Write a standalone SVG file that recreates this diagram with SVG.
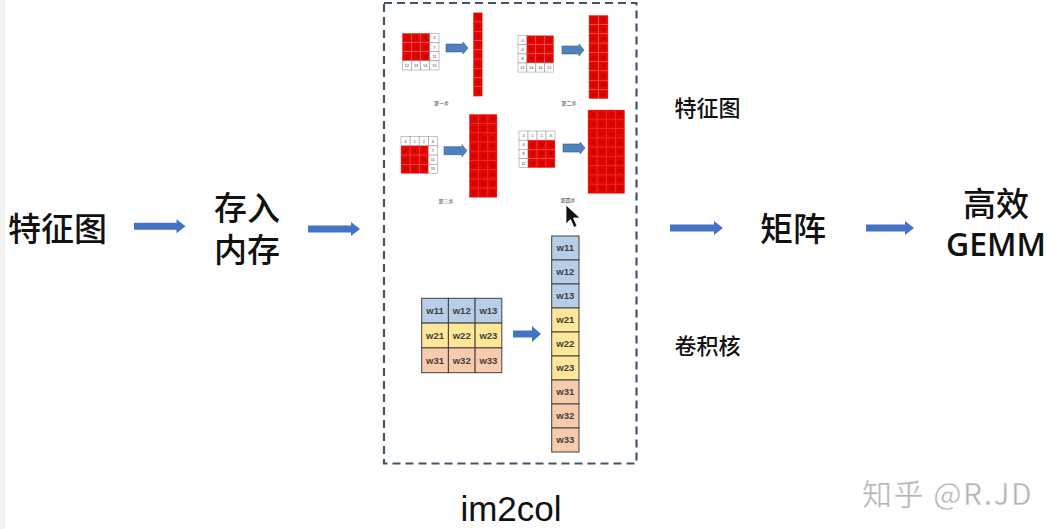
<svg xmlns="http://www.w3.org/2000/svg" width="1058" height="529" viewBox="0 0 1058 529">
<style>
.cjk{font-family:"Noto Sans CJK SC","Noto Sans",sans-serif;fill:#111;font-weight:500}
.big{font-size:33px}
.mid{font-size:22px}
.lat{font-family:"Liberation Sans",Arial,sans-serif;fill:#111}
.arr{fill:#4472c4}
.barr{fill:#4f81bd;stroke:#385d8a;stroke-width:0.6}
.r{fill:#e10600;stroke:#ff5a5a;stroke-width:0.4}
.w{fill:#fff;stroke:#8a8a8a;stroke-width:0.5}
.tr{font-family:"Liberation Sans",Arial,sans-serif;font-size:3.8px;fill:#6a0000;text-anchor:middle}
.tw{font-family:"Liberation Sans",Arial,sans-serif;font-size:3.8px;fill:#333;text-anchor:middle}
.step{font-family:"Noto Sans CJK SC",sans-serif;font-size:5px;fill:#333;text-anchor:middle}
.kb{fill:#b8cde8;stroke:#404040;stroke-width:1}
.ky{fill:#ffe699;stroke:#404040;stroke-width:1}
.ks{fill:#f8cbad;stroke:#404040;stroke-width:1}
.kt{font-family:"Liberation Sans",Arial,sans-serif;font-size:9.5px;font-weight:bold;fill:#404040;text-anchor:middle}
</style>
<rect x="0" y="0" width="1058" height="529" fill="#ffffff"/>
<rect x="0" y="0" width="5" height="529" fill="#f3f3f3"/>

<g id="connectors">
  <polygon class="arr" points="134,222.8 176.5,222.8 176.5,219.3 185.5,226.3 176.5,233.3 176.5,229.8 134,229.8"/>
  <polygon class="arr" points="308,225.5 351,225.5 351,222 360,229 351,236 351,232.5 308,232.5"/>
  <polygon class="arr" points="670,224.5 714,224.5 714,221 723,228 714,235 714,231.5 670,231.5"/>
  <polygon class="arr" points="866,224.5 905,224.5 905,221 914,228 905,235 905,231.5 866,231.5"/>
</g>

<g id="node-featuremap">
  <text class="cjk big" x="57.5" y="240.5" text-anchor="middle">特征图</text>
</g>
<g id="node-memory">
  <text class="cjk big" text-anchor="middle"><tspan x="247" y="220">存入</tspan><tspan x="247" y="262">内存</tspan></text>
</g>

<g id="node-im2col">
  <rect x="384" y="3" width="252.5" height="460.5" fill="none" stroke="#44546a" stroke-width="2.2" stroke-dasharray="8,5"/>

  <!-- step 1 grid -->
  <g transform="translate(402.3,33.3) scale(1.02)">
    <rect class="r" x="0" y="0" width="9" height="9"/><rect class="r" x="9" y="0" width="9" height="9"/><rect class="r" x="18" y="0" width="9" height="9"/><rect class="w" x="27" y="0" width="9" height="9"/>
    <rect class="r" x="0" y="9" width="9" height="9"/><rect class="r" x="9" y="9" width="9" height="9"/><rect class="r" x="18" y="9" width="9" height="9"/><rect class="w" x="27" y="9" width="9" height="9"/>
    <rect class="r" x="0" y="18" width="9" height="9"/><rect class="r" x="9" y="18" width="9" height="9"/><rect class="r" x="18" y="18" width="9" height="9"/><rect class="w" x="27" y="18" width="9" height="9"/>
    <rect class="w" x="0" y="27" width="9" height="9"/><rect class="w" x="9" y="27" width="9" height="9"/><rect class="w" x="18" y="27" width="9" height="9"/><rect class="w" x="27" y="27" width="9" height="9"/>
    <text class="tr" x="4.5" y="6">0</text><text class="tr" x="13.5" y="6">1</text><text class="tr" x="22.5" y="6">2</text><text class="tw" x="31.5" y="6">3</text>
    <text class="tr" x="4.5" y="15">4</text><text class="tr" x="13.5" y="15">5</text><text class="tr" x="22.5" y="15">6</text><text class="tw" x="31.5" y="15">7</text>
    <text class="tr" x="4.5" y="24">8</text><text class="tr" x="13.5" y="24">9</text><text class="tr" x="22.5" y="24">10</text><text class="tw" x="31.5" y="24">11</text>
    <text class="tw" x="4.5" y="33">12</text><text class="tw" x="13.5" y="33">13</text><text class="tw" x="22.5" y="33">14</text><text class="tw" x="31.5" y="33">15</text>
  </g>
  <polygon class="barr" points="446,44 463,44 463,42 468,48 463,54 463,52 446,52"/>
  <g transform="translate(473.3,12.7) scale(1,1.03)">
    <rect class="r" x="0" y="0" width="9" height="9"/><rect class="r" x="0" y="9" width="9" height="9"/><rect class="r" x="0" y="18" width="9" height="9"/>
    <rect class="r" x="0" y="27" width="9" height="9"/><rect class="r" x="0" y="36" width="9" height="9"/><rect class="r" x="0" y="45" width="9" height="9"/>
    <rect class="r" x="0" y="54" width="9" height="9"/><rect class="r" x="0" y="63" width="9" height="9"/><rect class="r" x="0" y="72" width="9" height="9"/>
    <text class="tr" x="4.5" y="6">0</text><text class="tr" x="4.5" y="15">1</text><text class="tr" x="4.5" y="24">2</text>
    <text class="tr" x="4.5" y="33">4</text><text class="tr" x="4.5" y="42">5</text><text class="tr" x="4.5" y="51">6</text>
    <text class="tr" x="4.5" y="60">8</text><text class="tr" x="4.5" y="69">9</text><text class="tr" x="4.5" y="78">10</text>
  </g>
  <text class="step" x="441.5" y="104.5">第一步</text>

  <!-- step 2 grid -->
  <g transform="translate(518,35.7) scale(0.99,1.01)">
    <rect class="w" x="0" y="0" width="9" height="9"/><rect class="r" x="9" y="0" width="9" height="9"/><rect class="r" x="18" y="0" width="9" height="9"/><rect class="r" x="27" y="0" width="9" height="9"/>
    <rect class="w" x="0" y="9" width="9" height="9"/><rect class="r" x="9" y="9" width="9" height="9"/><rect class="r" x="18" y="9" width="9" height="9"/><rect class="r" x="27" y="9" width="9" height="9"/>
    <rect class="w" x="0" y="18" width="9" height="9"/><rect class="r" x="9" y="18" width="9" height="9"/><rect class="r" x="18" y="18" width="9" height="9"/><rect class="r" x="27" y="18" width="9" height="9"/>
    <rect class="w" x="0" y="27" width="9" height="9"/><rect class="w" x="9" y="27" width="9" height="9"/><rect class="w" x="18" y="27" width="9" height="9"/><rect class="w" x="27" y="27" width="9" height="9"/>
    <text class="tw" x="4.5" y="6">0</text><text class="tr" x="13.5" y="6">1</text><text class="tr" x="22.5" y="6">2</text><text class="tr" x="31.5" y="6">3</text>
    <text class="tw" x="4.5" y="15">4</text><text class="tr" x="13.5" y="15">5</text><text class="tr" x="22.5" y="15">6</text><text class="tr" x="31.5" y="15">7</text>
    <text class="tw" x="4.5" y="24">8</text><text class="tr" x="13.5" y="24">9</text><text class="tr" x="22.5" y="24">10</text><text class="tr" x="31.5" y="24">11</text>
    <text class="tw" x="4.5" y="33">12</text><text class="tw" x="13.5" y="33">13</text><text class="tw" x="22.5" y="33">14</text><text class="tw" x="31.5" y="33">15</text>
  </g>
  <polygon class="barr" points="562,46 579,46 579,44 584,50 579,56 579,54 562,54"/>
  <g transform="translate(589,15.3) scale(1.055,1.03)">
    <rect class="r" x="0" y="0" width="9" height="9"/><rect class="r" x="9" y="0" width="9" height="9"/>
    <rect class="r" x="0" y="9" width="9" height="9"/><rect class="r" x="9" y="9" width="9" height="9"/>
    <rect class="r" x="0" y="18" width="9" height="9"/><rect class="r" x="9" y="18" width="9" height="9"/>
    <rect class="r" x="0" y="27" width="9" height="9"/><rect class="r" x="9" y="27" width="9" height="9"/>
    <rect class="r" x="0" y="36" width="9" height="9"/><rect class="r" x="9" y="36" width="9" height="9"/>
    <rect class="r" x="0" y="45" width="9" height="9"/><rect class="r" x="9" y="45" width="9" height="9"/>
    <rect class="r" x="0" y="54" width="9" height="9"/><rect class="r" x="9" y="54" width="9" height="9"/>
    <rect class="r" x="0" y="63" width="9" height="9"/><rect class="r" x="9" y="63" width="9" height="9"/>
    <rect class="r" x="0" y="72" width="9" height="9"/><rect class="r" x="9" y="72" width="9" height="9"/>
    <text class="tr" x="4.5" y="6">0</text><text class="tr" x="13.5" y="6">1</text>
    <text class="tr" x="4.5" y="15">1</text><text class="tr" x="13.5" y="15">2</text>
    <text class="tr" x="4.5" y="24">2</text><text class="tr" x="13.5" y="24">3</text>
    <text class="tr" x="4.5" y="33">4</text><text class="tr" x="13.5" y="33">5</text>
    <text class="tr" x="4.5" y="42">5</text><text class="tr" x="13.5" y="42">6</text>
    <text class="tr" x="4.5" y="51">6</text><text class="tr" x="13.5" y="51">7</text>
    <text class="tr" x="4.5" y="60">8</text><text class="tr" x="13.5" y="60">9</text>
    <text class="tr" x="4.5" y="69">9</text><text class="tr" x="13.5" y="69">10</text>
    <text class="tr" x="4.5" y="78">10</text><text class="tr" x="13.5" y="78">11</text>
  </g>
  <text class="step" x="569" y="104.5">第二步</text>

  <!-- step 3 grid -->
  <g transform="translate(401,136.7) scale(1.01,1.02)">
    <rect class="w" x="0" y="0" width="9" height="9"/><rect class="w" x="9" y="0" width="9" height="9"/><rect class="w" x="18" y="0" width="9" height="9"/><rect class="w" x="27" y="0" width="9" height="9"/>
    <rect class="r" x="0" y="9" width="9" height="9"/><rect class="r" x="9" y="9" width="9" height="9"/><rect class="r" x="18" y="9" width="9" height="9"/><rect class="w" x="27" y="9" width="9" height="9"/>
    <rect class="r" x="0" y="18" width="9" height="9"/><rect class="r" x="9" y="18" width="9" height="9"/><rect class="r" x="18" y="18" width="9" height="9"/><rect class="w" x="27" y="18" width="9" height="9"/>
    <rect class="r" x="0" y="27" width="9" height="9"/><rect class="r" x="9" y="27" width="9" height="9"/><rect class="r" x="18" y="27" width="9" height="9"/><rect class="w" x="27" y="27" width="9" height="9"/>
    <text class="tw" x="4.5" y="6">0</text><text class="tw" x="13.5" y="6">1</text><text class="tw" x="22.5" y="6">2</text><text class="tw" x="31.5" y="6">3</text>
    <text class="tr" x="4.5" y="15">4</text><text class="tr" x="13.5" y="15">5</text><text class="tr" x="22.5" y="15">6</text><text class="tw" x="31.5" y="15">7</text>
    <text class="tr" x="4.5" y="24">8</text><text class="tr" x="13.5" y="24">9</text><text class="tr" x="22.5" y="24">10</text><text class="tw" x="31.5" y="24">11</text>
    <text class="tr" x="4.5" y="33">12</text><text class="tr" x="13.5" y="33">13</text><text class="tr" x="22.5" y="33">14</text><text class="tw" x="31.5" y="33">15</text>
  </g>
  <polygon class="barr" points="444,146.7 462,146.7 462,144.7 467,150.7 462,156.7 462,154.7 444,154.7"/>
  <g transform="translate(469.3,114.3) scale(1.026,1.025)">
    <rect class="r" x="0" y="0" width="27" height="81"/>
    <path d="M9 0V81M18 0V81M0 9H27M0 18H27M0 27H27M0 36H27M0 45H27M0 54H27M0 63H27M0 72H27" stroke="#ff5a5a" stroke-width="0.4" fill="none"/>
    <text class="tr" x="4.5" y="6">0</text><text class="tr" x="13.5" y="6">1</text><text class="tr" x="22.5" y="6">4</text>
    <text class="tr" x="4.5" y="15">1</text><text class="tr" x="13.5" y="15">2</text><text class="tr" x="22.5" y="15">5</text>
    <text class="tr" x="4.5" y="24">2</text><text class="tr" x="13.5" y="24">3</text><text class="tr" x="22.5" y="24">6</text>
    <text class="tr" x="4.5" y="33">4</text><text class="tr" x="13.5" y="33">5</text><text class="tr" x="22.5" y="33">8</text>
    <text class="tr" x="4.5" y="42">5</text><text class="tr" x="13.5" y="42">6</text><text class="tr" x="22.5" y="42">9</text>
    <text class="tr" x="4.5" y="51">6</text><text class="tr" x="13.5" y="51">7</text><text class="tr" x="22.5" y="51">10</text>
    <text class="tr" x="4.5" y="60">8</text><text class="tr" x="13.5" y="60">9</text><text class="tr" x="22.5" y="60">12</text>
    <text class="tr" x="4.5" y="69">9</text><text class="tr" x="13.5" y="69">10</text><text class="tr" x="22.5" y="69">13</text>
    <text class="tr" x="4.5" y="78">10</text><text class="tr" x="13.5" y="78">11</text><text class="tr" x="22.5" y="78">14</text>
  </g>
  <text class="step" x="446" y="203">第三步</text>

  <!-- step 4 grid -->
  <g transform="translate(519,131) scale(1,1.02)">
    <rect class="w" x="0" y="0" width="9" height="9"/><rect class="w" x="9" y="0" width="9" height="9"/><rect class="w" x="18" y="0" width="9" height="9"/><rect class="w" x="27" y="0" width="9" height="9"/>
    <rect class="w" x="0" y="9" width="9" height="9"/><rect class="r" x="9" y="9" width="9" height="9"/><rect class="r" x="18" y="9" width="9" height="9"/><rect class="r" x="27" y="9" width="9" height="9"/>
    <rect class="w" x="0" y="18" width="9" height="9"/><rect class="r" x="9" y="18" width="9" height="9"/><rect class="r" x="18" y="18" width="9" height="9"/><rect class="r" x="27" y="18" width="9" height="9"/>
    <rect class="w" x="0" y="27" width="9" height="9"/><rect class="r" x="9" y="27" width="9" height="9"/><rect class="r" x="18" y="27" width="9" height="9"/><rect class="r" x="27" y="27" width="9" height="9"/>
    <text class="tw" x="4.5" y="6">0</text><text class="tw" x="13.5" y="6">1</text><text class="tw" x="22.5" y="6">2</text><text class="tw" x="31.5" y="6">3</text>
    <text class="tw" x="4.5" y="15">4</text><text class="tr" x="13.5" y="15">5</text><text class="tr" x="22.5" y="15">6</text><text class="tr" x="31.5" y="15">7</text>
    <text class="tw" x="4.5" y="24">8</text><text class="tr" x="13.5" y="24">9</text><text class="tr" x="22.5" y="24">10</text><text class="tr" x="31.5" y="24">11</text>
    <text class="tw" x="4.5" y="33">12</text><text class="tr" x="13.5" y="33">13</text><text class="tr" x="22.5" y="33">14</text><text class="tr" x="31.5" y="33">15</text>
  </g>
  <polygon class="barr" points="563,144 580,144 580,142 585,148 580,154 580,152 563,152"/>
  <g transform="translate(588,110) scale(1.02,1.03)">
    <rect class="r" x="0" y="0" width="36" height="81"/>
    <path d="M9 0V81M18 0V81M27 0V81M0 9H36M0 18H36M0 27H36M0 36H36M0 45H36M0 54H36M0 63H36M0 72H36" stroke="#ff5a5a" stroke-width="0.4" fill="none"/>
    <text class="tr" x="4.5" y="6">0</text><text class="tr" x="13.5" y="6">1</text><text class="tr" x="22.5" y="6">4</text><text class="tr" x="31.5" y="6">5</text>
    <text class="tr" x="4.5" y="15">1</text><text class="tr" x="13.5" y="15">2</text><text class="tr" x="22.5" y="15">5</text><text class="tr" x="31.5" y="15">6</text>
    <text class="tr" x="4.5" y="24">2</text><text class="tr" x="13.5" y="24">3</text><text class="tr" x="22.5" y="24">6</text><text class="tr" x="31.5" y="24">7</text>
    <text class="tr" x="4.5" y="33">4</text><text class="tr" x="13.5" y="33">5</text><text class="tr" x="22.5" y="33">8</text><text class="tr" x="31.5" y="33">9</text>
    <text class="tr" x="4.5" y="42">5</text><text class="tr" x="13.5" y="42">6</text><text class="tr" x="22.5" y="42">9</text><text class="tr" x="31.5" y="42">10</text>
    <text class="tr" x="4.5" y="51">6</text><text class="tr" x="13.5" y="51">7</text><text class="tr" x="22.5" y="51">10</text><text class="tr" x="31.5" y="51">11</text>
    <text class="tr" x="4.5" y="60">8</text><text class="tr" x="13.5" y="60">9</text><text class="tr" x="22.5" y="60">12</text><text class="tr" x="31.5" y="60">13</text>
    <text class="tr" x="4.5" y="69">9</text><text class="tr" x="13.5" y="69">10</text><text class="tr" x="22.5" y="69">13</text><text class="tr" x="31.5" y="69">14</text>
    <text class="tr" x="4.5" y="78">10</text><text class="tr" x="13.5" y="78">11</text><text class="tr" x="22.5" y="78">14</text><text class="tr" x="31.5" y="78">15</text>
  </g>
  <text class="step" x="568" y="202">第四步</text>

  <!-- kernel -->
  <g id="kernel-grid">
    <rect class="kb" x="421.7" y="298.3" width="26.7" height="24.8"/><rect class="kb" x="448.4" y="298.3" width="26.7" height="24.8"/><rect class="kb" x="475.1" y="298.3" width="26.7" height="24.8"/>
    <rect class="ky" x="421.7" y="323.1" width="26.7" height="24.8"/><rect class="ky" x="448.4" y="323.1" width="26.7" height="24.8"/><rect class="ky" x="475.1" y="323.1" width="26.7" height="24.8"/>
    <rect class="ks" x="421.7" y="347.9" width="26.7" height="24.8"/><rect class="ks" x="448.4" y="347.9" width="26.7" height="24.8"/><rect class="ks" x="475.1" y="347.9" width="26.7" height="24.8"/>
    <text class="kt" x="435" y="314.3">w11</text><text class="kt" x="461.7" y="314.3">w12</text><text class="kt" x="488.4" y="314.3">w13</text>
    <text class="kt" x="435" y="339.1">w21</text><text class="kt" x="461.7" y="339.1">w22</text><text class="kt" x="488.4" y="339.1">w23</text>
    <text class="kt" x="435" y="363.9">w31</text><text class="kt" x="461.7" y="363.9">w32</text><text class="kt" x="488.4" y="363.9">w33</text>
  </g>
  <polygon class="arr" points="513,330.5 532,330.5 532,326 541,334 532,342 532,337.5 513,337.5"/>
  <g id="kernel-column">
    <rect class="kb" x="551.7" y="236" width="27.3" height="24"/>
    <rect class="kb" x="551.7" y="260" width="27.3" height="24"/>
    <rect class="kb" x="551.7" y="284" width="27.3" height="24"/>
    <rect class="ky" x="551.7" y="308" width="27.3" height="24"/>
    <rect class="ky" x="551.7" y="332" width="27.3" height="24"/>
    <rect class="ky" x="551.7" y="356" width="27.3" height="24"/>
    <rect class="ks" x="551.7" y="380" width="27.3" height="24"/>
    <rect class="ks" x="551.7" y="404" width="27.3" height="24"/>
    <rect class="ks" x="551.7" y="428" width="27.3" height="24"/>
    <text class="kt" x="565.3" y="251.3">w11</text>
    <text class="kt" x="565.3" y="275.3">w12</text>
    <text class="kt" x="565.3" y="299.3">w13</text>
    <text class="kt" x="565.3" y="323.3">w21</text>
    <text class="kt" x="565.3" y="347.3">w22</text>
    <text class="kt" x="565.3" y="371.3">w23</text>
    <text class="kt" x="565.3" y="395.3">w31</text>
    <text class="kt" x="565.3" y="419.3">w32</text>
    <text class="kt" x="565.3" y="443.3">w33</text>
  </g>
  <text class="lat" x="511" y="521" font-size="35" text-anchor="middle">im2col</text>
</g>

<polygon points="566,205 566,224 570.5,219.5 574,227.5 577,226 573.5,218 580,218" fill="#111" stroke="#fff" stroke-width="0.8"/>

<g id="labels">
  <text class="cjk mid" x="707.5" y="116" text-anchor="middle">特征图</text>
  <text class="cjk mid" x="707.5" y="354" text-anchor="middle">卷积核</text>
</g>

<g id="node-matrix">
  <text class="cjk big" x="793" y="240.5" text-anchor="middle">矩阵</text>
</g>
<g id="node-gemm">
  <text class="cjk big" x="996" y="216" text-anchor="middle">高效</text>
  <text x="996" y="256" font-family="'Open Sans','Liberation Sans',sans-serif" font-weight="600" font-size="32" fill="#111" text-anchor="middle">GEMM</text>
</g>

<text x="862" y="505" font-family="'Noto Sans CJK SC','Liberation Sans',sans-serif" font-size="30" letter-spacing="1.5" fill="#b5b5b5" stroke="#ffffff" stroke-width="0.4">知乎 @R.JD</text>
</svg>
